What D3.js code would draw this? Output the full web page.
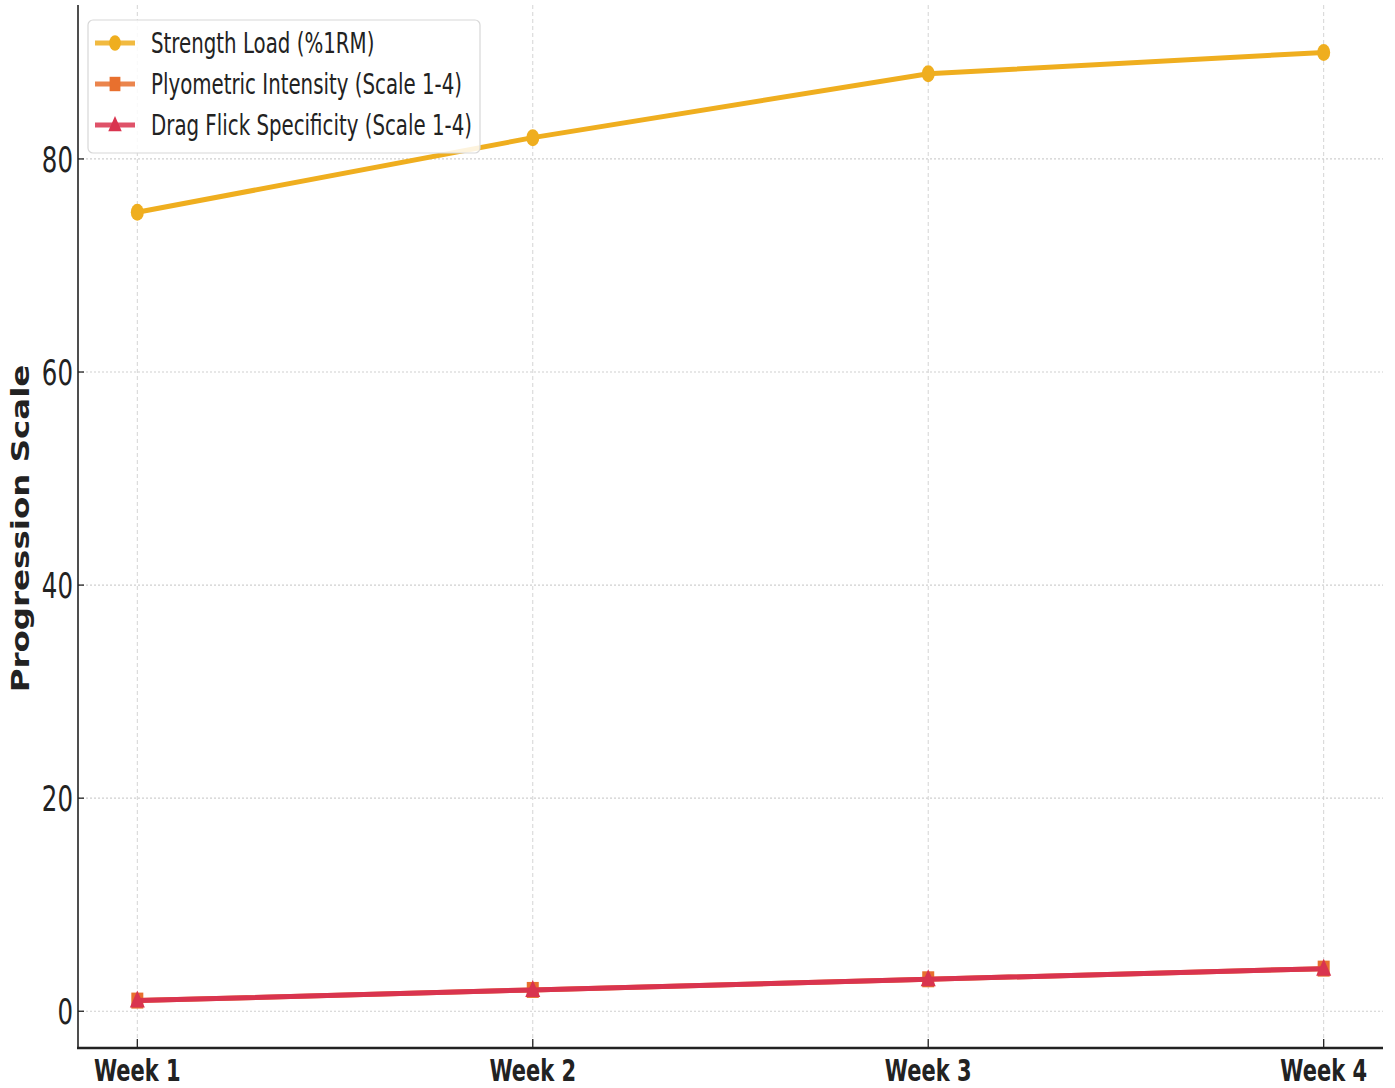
<!DOCTYPE html>
<html>
<head>
<meta charset="utf-8">
<script src="https://cdn.jsdelivr.net/npm/d3@7"></script>
<style>
  html, body { margin: 0; padding: 0; background: #fff; }
  svg { display: block; }
  text { font-family: "DejaVu Sans", sans-serif; fill: #222; }
</style>
</head>
<body>
<svg id="chart" width="1395" height="1088"></svg>
<script>
// Training block progression over four weeks
const weeks = ["Week 1", "Week 2", "Week 3", "Week 4"];
const strengthLoad = [75, 82, 88, 90];
const plyometricIntensity = [1, 2, 3, 4];
const dragFlickSpecificity = [1, 2, 3, 4];
const yTicks = [0, 20, 40, 60, 80];
const seriesNames = [
  "Strength Load (%1RM)",
  "Plyometric Intensity (Scale 1-4)",
  "Drag Flick Specificity (Scale 1-4)"
];
const seriesColors = ["#EFAE1F", "#E8702E", "#D9344F"];
const seriesMarkers = ["circle", "square", "triangle"];

const svg = d3.select("#chart");
const plot = { left: 78, right: 1383, top: 5, bottom: 1048 };
const squeeze = 0.7; // horizontal glyph compression

const allVals = strengthLoad.concat(plyometricIntensity, dragFlickSpecificity);
const vMin = d3.min(allVals), vMax = d3.max(allVals);
const pad = (vMax - vMin) * 0.05;

const x = d3.scalePoint().domain(weeks).range([plot.left, plot.right]).padding(0.15);
const y = d3.scaleLinear().domain([vMin - pad, vMax + pad]).range([plot.bottom, plot.top]);

// grid
const grid = svg.append("g");
grid.selectAll("line.v").data(weeks).join("line")
  .attr("x1", d => x(d)).attr("x2", d => x(d))
  .attr("y1", plot.top).attr("y2", plot.bottom)
  .attr("stroke", "#d4d4d4").attr("stroke-width", 1).attr("stroke-dasharray", "4,3");
grid.selectAll("line.h").data(yTicks).join("line")
  .attr("x1", plot.left).attr("x2", plot.right)
  .attr("y1", d => y(d)).attr("y2", d => y(d))
  .attr("stroke", "#cfcfcf").attr("stroke-width", 1.2).attr("stroke-dasharray", "2,2");

// series
const seriesData = [strengthLoad, plyometricIntensity, dragFlickSpecificity];
const line = d3.line().x((d, i) => x(weeks[i])).y(d => y(d));

function drawMarker(g, kind, color, cx, cy, s) {
  if (kind === "circle") {
    g.append("ellipse").attr("cx", cx).attr("cy", cy).attr("rx", 6.5 * s).attr("ry", 8.5 * s).attr("fill", color);
  } else if (kind === "square") {
    g.append("rect").attr("x", cx - 6 * s).attr("y", cy - 8 * s).attr("width", 12 * s).attr("height", 16 * s).attr("fill", color);
  } else {
    g.append("path")
      .attr("d", `M${cx},${cy - 10 * s}L${cx + 7.5 * s},${cy + 7 * s}L${cx - 7.5 * s},${cy + 7 * s}Z`)
      .attr("fill", color);
  }
}

seriesData.forEach((vals, k) => {
  const g = svg.append("g");
  g.append("path").datum(vals).attr("d", line)
    .attr("fill", "none").attr("stroke", seriesColors[k]).attr("stroke-width", 5)
    .attr("stroke-linejoin", "round").attr("stroke-linecap", "round");
  vals.forEach((v, i) => drawMarker(g, seriesMarkers[k], seriesColors[k], x(weeks[i]), y(v), 1));
});

// axes
const axes = svg.append("g").attr("stroke", "#222");
axes.append("line").attr("x1", plot.left).attr("x2", plot.left)
  .attr("y1", plot.top).attr("y2", plot.bottom + 1).attr("stroke-width", 1.6);
axes.append("line").attr("x1", plot.left - 1).attr("x2", plot.right)
  .attr("y1", plot.bottom).attr("y2", plot.bottom).attr("stroke-width", 2.5);
axes.selectAll("line.yt").data(yTicks).join("line")
  .attr("x1", plot.left).attr("x2", plot.left + 6)
  .attr("y1", d => y(d)).attr("y2", d => y(d)).attr("stroke-width", 1.3);
axes.selectAll("line.xt").data(weeks).join("line")
  .attr("x1", d => x(d)).attr("x2", d => x(d))
  .attr("y1", plot.bottom).attr("y2", plot.bottom - 9).attr("stroke-width", 1.3);

// tick labels
svg.append("g").selectAll("text").data(yTicks).join("text")
  .attr("transform", d => `translate(${plot.left - 5},${y(d) + 13}) scale(${squeeze},1)`)
  .attr("text-anchor", "end").attr("font-size", 35).attr("fill", "#333")
  .text(d => d);
svg.append("g").selectAll("text").data(weeks).join("text")
  .attr("transform", d => `translate(${x(d)},${plot.bottom + 33}) scale(${squeeze},1)`)
  .attr("text-anchor", "middle").attr("font-size", 30).attr("font-weight", "bold").attr("fill", "#222")
  .text(d => d);

// y axis title
svg.append("text")
  .attr("transform", `translate(29,${(plot.top + plot.bottom) / 2 + 2}) rotate(-90) scale(1,0.78)`)
  .attr("text-anchor", "middle").attr("font-size", 32.5).attr("font-weight", "bold").attr("fill", "#111")
  .text("Progression Scale");

// legend
const lg = svg.append("g");
lg.append("rect").attr("x", 88).attr("y", 20).attr("width", 392).attr("height", 133).attr("rx", 5)
  .attr("fill", "#fff").attr("fill-opacity", 0.85).attr("stroke", "#d8d8d8").attr("stroke-width", 1.2);
seriesNames.forEach((name, k) => {
  const cy = 43 + k * 41;
  lg.append("line").attr("x1", 95).attr("x2", 135).attr("y1", cy).attr("y2", cy)
    .attr("stroke", seriesColors[k]).attr("stroke-width", 5).attr("stroke-opacity", 0.85);
  drawMarker(lg, seriesMarkers[k], seriesColors[k], 115, cy, 0.9);
  lg.append("text")
    .attr("transform", `translate(151,${cy + 10}) scale(0.72,1)`)
    .attr("font-size", 27.5).attr("fill", "#333").text(name);
});
</script>
</body>
</html>
